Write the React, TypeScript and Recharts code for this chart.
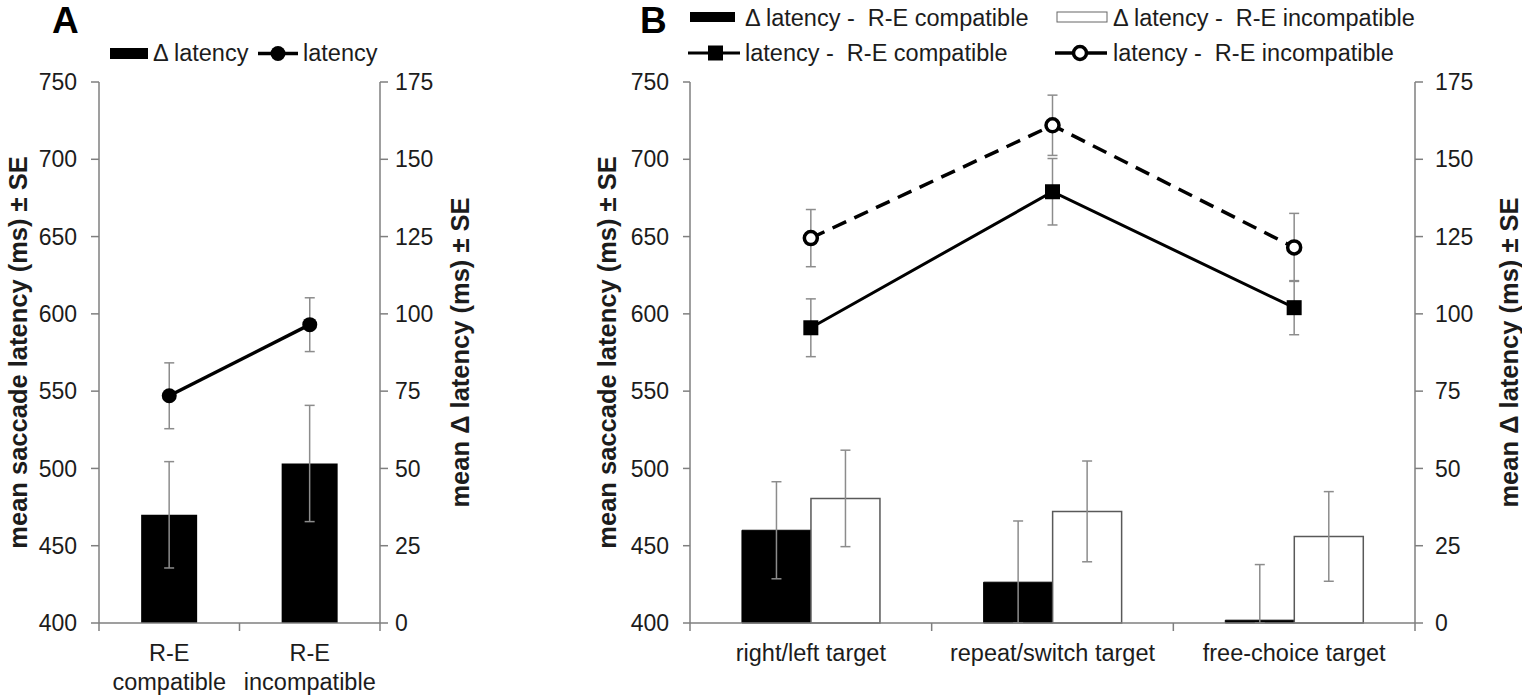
import React from 'react';
import { ComposedChart, Bar, Line, XAxis, YAxis, ErrorBar } from 'recharts';

const FONT = '"Liberation Sans", Arial, Helvetica, sans-serif';
const INK = '#1c1c1c';
const AXIS = '#7f7f7f';
const ERR = '#8c8c8c';
const CAT_MARGIN = 21;

// panel A - R-E compatibility
const conditionsA = ['R-E\ncompatible', 'R-E\nincompatible'];
const deltaA = [35.0, 51.6];
const deltaSeA = [17.2, 18.8];
const latencyA = [547, 593];
const latencySeA = [21.3, 17.4];

// panel B - target type x R-E compatibility
const targetsB = ['right/left target', 'repeat/switch target', 'free-choice target'];
const deltaCompB = [30.0, 13.2, 0.9];
const deltaCompSeB = [15.7, 19.8, 18.0];
const deltaIncompB = [40.3, 36.1, 28.0];
const deltaIncompSeB = [15.6, 16.3, 14.5];
const latCompB = [591, 679, 604];
const latCompSeB = [18.7, 21.5, 17.5];
const latIncompB = [649, 722, 643];
const latIncompSeB = [18.5, 19.5, 22.0];

const latencyTicks = [400, 450, 500, 550, 600, 650, 700, 750];
const deltaTicks = [0, 25, 50, 75, 100, 125, 150, 175];

// whiskers stop at the zero line
const err = (v: number, se: number) => [Math.min(se, v), se];

const dataA = conditionsA.map((name, i) => ({
  name,
  delta: deltaA[i],
  deltaErr: err(deltaA[i], deltaSeA[i]),
  latency: latencyA[i],
  latencyErr: err(latencyA[i], latencySeA[i]),
}));

const dataB = targetsB.map((name, i) => ({
  name,
  dComp: deltaCompB[i],
  dCompErr: err(deltaCompB[i], deltaCompSeB[i]),
  dIncomp: deltaIncompB[i],
  dIncompErr: err(deltaIncompB[i], deltaIncompSeB[i]),
  lComp: latCompB[i],
  lCompErr: err(latCompB[i], latCompSeB[i]),
  lIncomp: latIncompB[i],
  lIncompErr: err(latIncompB[i], latIncompSeB[i]),
}));

// category label + tick marks on the category boundaries (excel style)
const CategoryTick = (props: any) => {
  const { x, y, payload, index, count, width } = props;
  const half = payload && payload.offset ? payload.offset : width / count / 2;
  const axisY = y - CAT_MARGIN;
  const lines = String(payload.value).split('\n');
  return (
    <g>
      <line x1={x - half} y1={axisY} x2={x - half} y2={axisY + 8} stroke={AXIS} strokeWidth={1.5} />
      {index === count - 1 && (
        <line x1={x + half} y1={axisY} x2={x + half} y2={axisY + 8} stroke={AXIS} strokeWidth={1.5} />
      )}
      <text x={x} y={y} textAnchor="middle" fontFamily={FONT} fontSize={23.5} fill={INK}>
        {lines.map((l, i) => (
          <tspan key={i} x={x} dy={i === 0 ? '0.71em' : 29}>
            {l}
          </tspan>
        ))}
      </text>
    </g>
  );
};

const axisTitle = (text: string, dx: number) => (props: any) => {
  const vb = props.viewBox;
  if (!vb) return null;
  const cx = vb.x + vb.width / 2 + dx;
  const cy = vb.y + vb.height / 2;
  return (
    <text
      x={cx}
      y={cy}
      transform={`rotate(-90 ${cx} ${cy})`}
      textAnchor="middle"
      dominantBaseline="central"
      fontFamily={FONT}
      fontWeight="bold"
      fontSize={25.5}
      fill={INK}
    >
      {text}
    </text>
  );
};

const SquareDot = (props: any) => {
  const { cx, cy } = props;
  if (cx == null || cy == null) return null;
  return <rect x={cx - 7.5} y={cy - 7.5} width={15} height={15} fill="#000" />;
};

const tickStyle = { fontFamily: FONT, fontSize: 23, fill: INK };

const PanelA = () => (
  <ComposedChart
    width={520}
    height={695}
    data={dataA}
    margin={{ top: 82, right: 0, bottom: 0, left: 0 }}
    barCategoryGap="30%"
    barGap={0}
  >
    <XAxis
      xAxisId="cat"
      dataKey="name"
      axisLine={{ stroke: AXIS, strokeWidth: 1.5 }}
      tickLine={false}
      tickSize={0}
      tickMargin={CAT_MARGIN}
      height={72}
      interval={0}
      tick={<CategoryTick count={conditionsA.length} />}
    />
    <YAxis
      yAxisId="lat"
      domain={[400, 750]}
      ticks={latencyTicks}
      width={99}
      tickSize={8}
      tickMargin={14}
      stroke={AXIS}
      strokeWidth={1.5}
      tick={tickStyle}
      label={{ content: axisTitle('mean saccade latency (ms) ± SE', -32) }}
    />
    <YAxis
      yAxisId="delta"
      orientation="right"
      domain={[0, 175]}
      ticks={deltaTicks}
      width={140}
      tickSize={8}
      tickMargin={7}
      stroke={AXIS}
      strokeWidth={1.5}
      tick={tickStyle}
      label={{ content: axisTitle('mean Δ latency (ms) ± SE', 10) }}
    />
    <Bar xAxisId="cat" yAxisId="delta" dataKey="delta" fill="#000" isAnimationActive={false}>
      <ErrorBar dataKey="deltaErr" direction="y" width={5} stroke={ERR} strokeWidth={1.5} />
    </Bar>
    <Line
      xAxisId="cat"
      yAxisId="lat"
      dataKey="latency"
      stroke="#000"
      strokeWidth={3.5}
      dot={{ r: 7.5, fill: '#000', stroke: '#000', strokeWidth: 0 }}
      activeDot={false}
      isAnimationActive={false}
    >
      <ErrorBar dataKey="latencyErr" direction="y" width={5} stroke={ERR} strokeWidth={1.5} />
    </Line>
  </ComposedChart>
);

const PanelB = () => (
  <ComposedChart
    width={1002}
    height={695}
    data={dataB}
    margin={{ top: 82, right: 0, bottom: 0, left: 0 }}
    barCategoryGap="21.5%"
    barGap={0}
  >
    <XAxis
      xAxisId="cat"
      dataKey="name"
      axisLine={{ stroke: AXIS, strokeWidth: 1.5 }}
      tickLine={false}
      tickSize={0}
      tickMargin={CAT_MARGIN}
      height={72}
      interval={0}
      tick={<CategoryTick count={targetsB.length} />}
    />
    <YAxis
      yAxisId="lat"
      domain={[400, 750]}
      ticks={latencyTicks}
      width={170}
      tickSize={7}
      tickMargin={14}
      stroke={AXIS}
      strokeWidth={1.5}
      tick={tickStyle}
      label={{ content: axisTitle('mean saccade latency (ms) ± SE', 2) }}
    />
    <YAxis
      yAxisId="delta"
      orientation="right"
      domain={[0, 175]}
      ticks={deltaTicks}
      width={107}
      tickSize={8}
      tickMargin={12}
      stroke={AXIS}
      strokeWidth={1.5}
      tick={tickStyle}
      label={{ content: axisTitle('mean Δ latency (ms) ± SE', 40) }}
    />
    <Bar xAxisId="cat" yAxisId="delta" dataKey="dComp" fill="#000" stroke="#000" strokeWidth={1} isAnimationActive={false}>
      <ErrorBar dataKey="dCompErr" direction="y" width={5} stroke={ERR} strokeWidth={1.5} />
    </Bar>
    <Bar xAxisId="cat" yAxisId="delta" dataKey="dIncomp" fill="#fff" stroke="#595959" strokeWidth={1.5} isAnimationActive={false}>
      <ErrorBar dataKey="dIncompErr" direction="y" width={5} stroke={ERR} strokeWidth={1.5} />
    </Bar>
    <Line
      xAxisId="cat"
      yAxisId="lat"
      dataKey="lComp"
      stroke="#000"
      strokeWidth={3}
      dot={<SquareDot />}
      activeDot={false}
      isAnimationActive={false}
    >
      <ErrorBar dataKey="lCompErr" direction="y" width={5} stroke={ERR} strokeWidth={1.5} />
    </Line>
    <Line
      xAxisId="cat"
      yAxisId="lat"
      dataKey="lIncomp"
      stroke="#000"
      strokeWidth={3.5}
      strokeDasharray="15 9"
      dot={{ r: 6.5, fill: '#fff', stroke: '#000', strokeWidth: 3.5, strokeDasharray: '' }}
      activeDot={false}
      isAnimationActive={false}
    >
      <ErrorBar dataKey="lIncompErr" direction="y" width={5} stroke={ERR} strokeWidth={1.5} />
    </Line>
  </ComposedChart>
);

const Overlay = () => (
  <svg
    width={1522}
    height={695}
    style={{ position: 'absolute', left: 0, top: 0, pointerEvents: 'none' }}
    fontFamily={FONT}
    fill={INK}
  >
    <text x={52} y={33} fontSize={37} fontWeight="bold" fill="#000">A</text>
    <text x={640} y={33} fontSize={37} fontWeight="bold" fill="#000">B</text>

    {/* legend A */}
    <rect x={110} y={48} width={38} height={11} fill="#000" />
    <text x={153} y={61} fontSize={23.5}>Δ latency</text>
    <line x1={258} y1={53.5} x2={298} y2={53.5} stroke="#000" strokeWidth={3.5} />
    <circle cx={278} cy={53.5} r={7.5} fill="#000" />
    <text x={303} y={61} fontSize={23.5}>latency</text>

    {/* legend B */}
    <rect x={690} y={12} width={45} height={10} fill="#000" />
    <text x={745} y={26} fontSize={23.5} style={{ whiteSpace: 'pre' }}>Δ latency -  R-E compatible</text>
    <rect x={1057} y={12} width={50} height={10} fill="#fff" stroke="#666" strokeWidth={1} />
    <text x={1113} y={26} fontSize={23.5} style={{ whiteSpace: 'pre' }}>Δ latency -  R-E incompatible</text>
    <line x1={688} y1={53} x2={740} y2={53} stroke="#000" strokeWidth={3} />
    <rect x={708} y={45.5} width={15} height={15} fill="#000" />
    <text x={745} y={61} fontSize={23.5} style={{ whiteSpace: 'pre' }}>latency -  R-E compatible</text>
    <line x1={1055} y1={53} x2={1107} y2={53} stroke="#000" strokeWidth={3.5} />
    <circle cx={1080} cy={53} r={6.5} fill="#fff" stroke="#000" strokeWidth={3.5} />
    <text x={1113} y={61} fontSize={23.5} style={{ whiteSpace: 'pre' }}>latency -  R-E incompatible</text>
  </svg>
);

export default function App() {
  return (
    <div style={{ position: 'absolute', left: 0, top: 0, width: 1522, height: 695, background: '#fff' }}>
      <div style={{ position: 'absolute', left: 0, top: 0 }}>
        <PanelA />
      </div>
      <div style={{ position: 'absolute', left: 520, top: 0 }}>
        <PanelB />
      </div>
      <Overlay />
    </div>
  );
}
